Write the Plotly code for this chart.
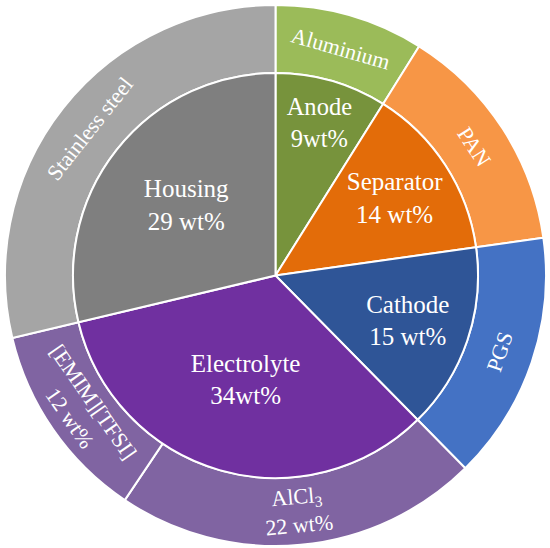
import math
import plotly.graph_objects as go

# Inner ring: components
components = ["Anode", "Separator", "Cathode", "Electrolyte", "Housing"]
component_values = [9, 14, 15, 34, 29]
component_text = ["Anode<br>9wt%", "Separator<br>14 wt%", "Cathode<br>15 wt%",
                  "Electrolyte<br>34wt%", "Housing<br>29 wt%"]
component_colors = ["#77933C", "#E36C09", "#2F5597", "#7030A0", "#7F7F7F"]

# Outer ring: materials
materials = ["Aluminium", "PAN", "PGS", "AlCl3", "[EMIM][TFSI]", "Stainless steel"]
material_values = [9, 14, 15, 22, 12, 29]
material_text = ["Aluminium", "PAN", "PGS", "AlCl<sub>3</sub><br>22 wt%",
                 "[EMIM][TFSI]<br>12 wt%", "Stainless steel"]
material_colors = ["#9BBB59", "#F79646", "#4472C4", "#8064A2", "#8064A2", "#A5A5A5"]

W, H = 550, 548
ml, mr, mt, mb = 5, 4, 5, 2
PW = W - ml - mr          # plot area width (541)
R_out = PW / 2
R_in = 202.5
hole = R_in / R_out
f0 = 0.5 - R_in / (2 * R_out)
f1 = 0.5 + R_in / (2 * R_out)

font_family = "Liberation Serif"

fig = go.Figure()
fig.add_trace(go.Pie(
    labels=materials, values=material_values, textinfo="none",
    sort=False, direction="clockwise", rotation=0, hole=hole,
    marker=dict(colors=material_colors, line=dict(color="white", width=2)),
    domain=dict(x=[0, 1], y=[0, 1]), showlegend=False,
))
fig.add_trace(go.Pie(
    labels=components, values=component_values, text=component_text,
    textinfo="text", sort=False, direction="clockwise", rotation=0,
    marker=dict(colors=component_colors, line=dict(color="white", width=2)),
    insidetextorientation="horizontal", textposition="inside",
    textfont=dict(family=font_family, size=25, color="white"),
    domain=dict(x=[f0, f1], y=[f0, f1]), showlegend=False,
))

# Tangential labels for the outer ring, placed at each slice's mid-angle
total = sum(material_values)
r_mid = (R_in + R_out) / 2 / R_out   # as fraction of outer radius
cum = 0
annotations = []
for txt, v in zip(material_text, material_values):
    mid = (cum + v / 2) / total * 360.0
    cum += v
    th = math.radians(mid)
    x = 0.5 + 0.5 * r_mid * math.sin(th)
    y = 0.5 + 0.5 * r_mid * math.cos(th)
    ang = mid if (mid < 90 or mid > 270) else mid - 180
    if ang > 180:
        ang -= 360
    annotations.append(dict(
        x=x, y=y, xref="paper", yref="paper", text=txt, showarrow=False,
        textangle=ang, xanchor="center", yanchor="middle",
        font=dict(family=font_family, size=22, color="white"),
    ))

fig.update_layout(
    width=W, height=H,
    margin=dict(l=ml, r=mr, t=mt, b=mb),
    paper_bgcolor="white", plot_bgcolor="white",
    annotations=annotations,
)
fig.write_html("out.html", config={"displayModeBar": False},
               post_script="document.body.style.margin='0';")
